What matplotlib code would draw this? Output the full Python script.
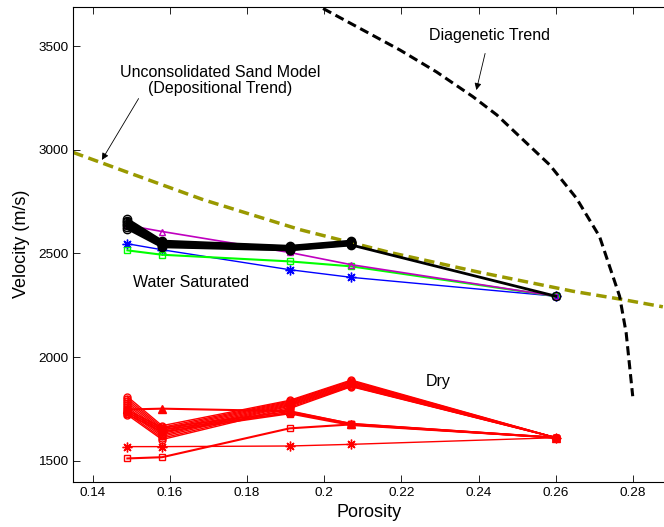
import numpy as np
import matplotlib
matplotlib.use("Agg")
import matplotlib.pyplot as plt

plt.rcParams['font.family'] = ['Liberation Sans', 'DejaVu Sans']

porosity = [0.149, 0.158, 0.191, 0.207, 0.26]
nan = np.nan

# water saturated velocities (m/s)
sat_black = [
    [2665, 2560, 2535, 2560, nan],
    [2658, 2555, 2532, 2556, nan],
    [2650, 2550, 2528, 2553, nan],
    [2643, 2546, 2525, 2550, nan],
    [2636, 2541, 2522, 2547, nan],
    [2628, 2536, 2519, 2544, nan],
    [2620, 2532, 2517, 2541, 2294],
]
sat_magenta = [2636, 2606, 2505, 2446, 2294]
sat_green = [2515, 2494, 2462, 2438, 2294]
sat_blue = [2547, 2518, 2422, 2385, 2294]

# dry velocities (m/s)
dry_star = [1569, 1569, 1572, 1580, 1612]
dry_square = [1512, 1518, 1657, 1676, 1612]
dry_triangle = [1748, 1752, 1740, 1678, 1612]
dry_bundle = [
    [1810, 1670, 1792, 1890, 1612],
    [1800, 1662, 1788, 1886, 1612],
    [1790, 1655, 1784, 1882, 1612],
    [1780, 1648, 1780, 1878, 1612],
    [1770, 1640, 1776, 1874, 1612],
    [1760, 1632, 1772, 1870, 1612],
    [1750, 1625, 1768, 1866, 1612],
    [1740, 1618, 1764, 1862, 1612],
    [1730, 1610, 1758, 1860, 1612],
    [1722, 1603, 1752, 1858, 1612],
]
dry_mid = [
    [1745, 1660, 1738, 1680, 1612],
    [1735, 1650, 1732, 1676, 1612],
    [1725, 1640, 1728, 1672, 1612],
]

# trends
sand_phi = [0.135, 0.15, 0.1687, 0.1937, 0.217, 0.2403, 0.2644, 0.2773, 0.2877]
sand_v = [2987, 2885, 2759, 2615, 2505, 2409, 2318, 2278, 2243]
diag_phi = [0.1997, 0.2196, 0.2291, 0.2385, 0.2447, 0.2506, 0.2584, 0.2653,
            0.2713, 0.2765, 0.2782, 0.2799]
diag_v = [3681, 3481, 3375, 3256, 3168, 3064, 2927, 2767,
          2582, 2294, 2117, 1812]

fig = plt.figure(figsize=(6.64, 5.27), dpi=100)
ax = fig.add_axes([0.1104, 0.086, 0.8896, 0.9014])

olive = (0.6, 0.6, 0.0)
asterisk = (8, 2, 0)
ax.plot(sand_phi, sand_v, '--', color=olive, lw=2.5, dashes=(3, 1.6))
ax.plot(diag_phi, diag_v, '--', color='k', lw=2.2, dashes=(3, 1.6))

# dry
for v in dry_bundle:
    ax.plot(porosity, v, '-o', color='r', lw=1.0, ms=5, mfc='none', mec='r')
for v in dry_mid:
    ax.plot(porosity, v, '-s', color='r', lw=1.2, ms=5, mfc='none', mec='r')
ax.plot(porosity, dry_triangle, '-^', color='r', lw=1.5, ms=6, mfc='r')
ax.plot(porosity, dry_square, '-s', color='r', lw=1.5, ms=5, mfc='none')
ax.plot(porosity, dry_star, '-', color='r', lw=1.0, marker=asterisk, ms=7)

# saturated
ax.plot(porosity, sat_blue, '-', color='b', lw=1.0, marker=asterisk, ms=7)
ax.plot(porosity, sat_green, '-s', color=(0, 1, 0), lw=1.5, ms=5, mfc='none')
ax.plot(porosity, sat_magenta, '-^', color='m', lw=1.2, ms=5, mfc='none')
for v in sat_black:
    ax.plot(porosity, v, '-o', color='k', lw=2.0, ms=6, mfc='none')

ax.set_xlim(0.135, 0.288)
ax.set_ylim(1400, 3690)
ax.set_xticks([0.14, 0.16, 0.18, 0.2, 0.22, 0.24, 0.26, 0.28])
ax.set_xticklabels(['0.14', '0.16', '0.18', '0.2', '0.22', '0.24', '0.26', '0.28'])
ax.set_yticks([1500, 2000, 2500, 3000, 3500])
ax.tick_params(direction='in', top=True, right=False, labelsize=9.7, length=5, width=0.6)
ax.spines['right'].set_visible(False)
for s in ['left', 'bottom', 'top']:
    ax.spines[s].set_linewidth(0.8)

ax.set_xlabel('Porosity', fontsize=13, labelpad=4)
ax.set_ylabel('Velocity (m/s)', fontsize=13, labelpad=6)

ax.text(0.1656, 2358, 'Water Saturated', fontsize=11.5, ha='center', va='center')
ax.text(0.2296, 1885, 'Dry', fontsize=11.5, ha='center', va='center')
ax.annotate('Diagenetic Trend', xy=(0.2394, 3288), xytext=(0.2428, 3553),
            fontsize=11.5, ha='center', va='center',
            arrowprops=dict(arrowstyle='-|>', color='k', lw=0.6, shrinkA=6, shrinkB=0,
                            mutation_scale=10))
ax.annotate('Unconsolidated Sand Model\n(Depositional Trend)', xy=(0.1424, 2951),
            xytext=(0.1731, 3334), fontsize=11.5, ha='center', va='center',
            linespacing=1.05,
            arrowprops=dict(arrowstyle='-|>', color='k', lw=0.6, shrinkA=0, shrinkB=0,
                            mutation_scale=10, relpos=(0.1, 0.0)))

fig.savefig('out.png', dpi=100)
